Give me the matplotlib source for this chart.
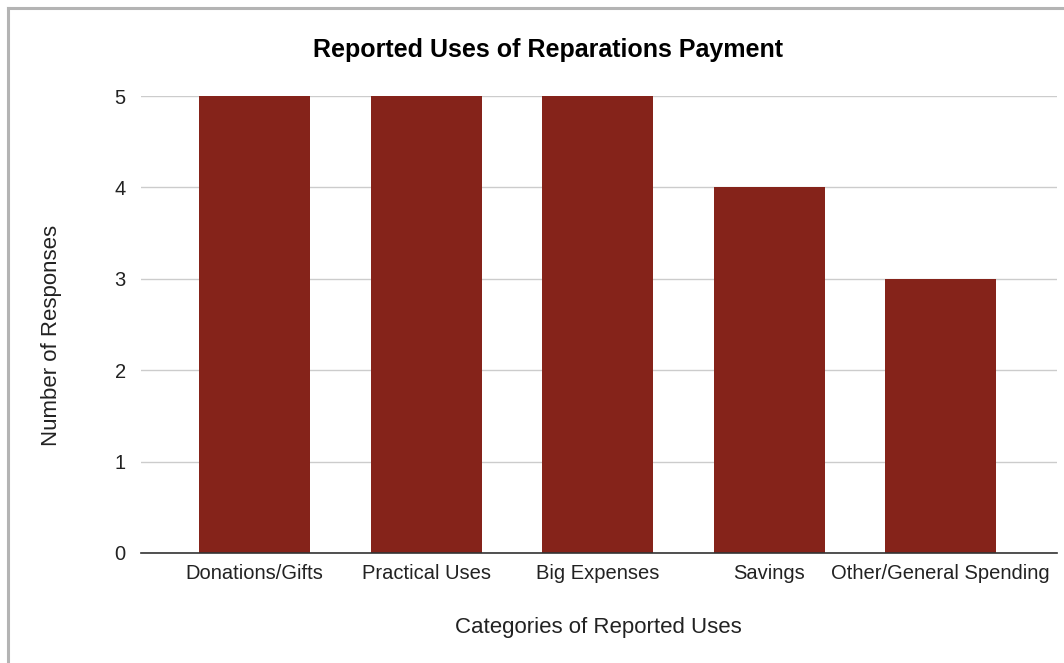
import matplotlib
matplotlib.use("Agg")
import matplotlib.pyplot as plt
from matplotlib.lines import Line2D

plt.rcParams['font.family'] = ['Liberation Sans', 'DejaVu Sans']

categories = ["Donations/Gifts", "Practical Uses", "Big Expenses", "Savings",
              "Other/General Spending"]
responses = [5, 5, 5, 4, 3]
y_ticks = [0, 1, 2, 3, 4, 5]

W, H = 1064, 663
fig = plt.figure(figsize=(W / 100, H / 100), dpi=100)
ax = fig.add_axes([141 / W, 1 - 553 / H, (1057 - 141) / W, (553 - 96) / H])

bar_color = "#85231a"
bar_w = 0.647
xs = list(range(len(categories)))
ax.bar(xs, responses, width=bar_w, color=bar_color, zorder=3)

ax.set_xlim(-0.662, 4.679)
ax.set_ylim(0, 5)
ax.set_yticks(y_ticks)
ax.set_yticklabels([str(t) for t in y_ticks], fontsize=14.5, color="#222222")
ax.set_xticks(xs)
ax.set_xticklabels(categories, fontsize=14.5, color="#222222")
ax.tick_params(axis='both', length=0)
ax.tick_params(axis='y', pad=11)
ax.tick_params(axis='x', pad=8)

ax.grid(axis='y', color="#cccccc", linewidth=1.0, zorder=0)
for s in ['top', 'right', 'left']:
    ax.spines[s].set_visible(False)
ax.spines['bottom'].set_color("#333333")
ax.spines['bottom'].set_linewidth(1.2)
ax.spines['bottom'].set_zorder(4)
ax.set_axisbelow(True)

fig.text(548 / W, 1 - 50 / H, "Reported Uses of Reparations Payment",
         ha='center', va='center', fontsize=18, fontweight='bold', color="#000000")
fig.text(598 / W, 1 - 628 / H, "Categories of Reported Uses",
         ha='center', va='center', fontsize=16, color="#222222")
fig.text(52 / W, 1 - 335 / H, "Number of Responses", rotation=90,
         ha='center', va='center', fontsize=16, color="#222222")

# outer frame of the chart card
fig.add_artist(Line2D([7.5 / W, 7.5 / W], [0, 1 - 8 / H], transform=fig.transFigure,
                      color="#b4b4b4", linewidth=2.2))
fig.add_artist(Line2D([7.5 / W, 1], [1 - 8 / H, 1 - 8 / H], transform=fig.transFigure,
                      color="#b4b4b4", linewidth=2.2))

fig.savefig("out.png", dpi=100)
